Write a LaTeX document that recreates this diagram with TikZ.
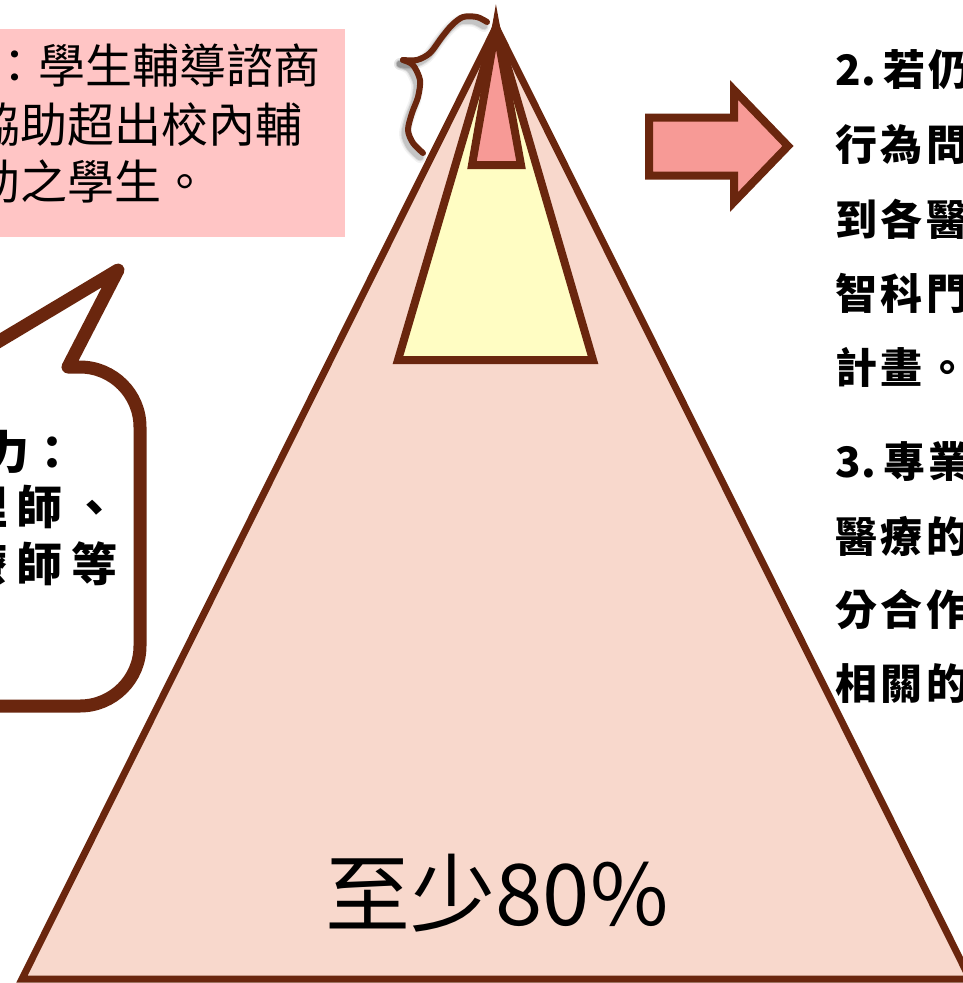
\documentclass[tikz,border=0pt]{standalone}
\usepackage{fontspec}
\newfontfamily\cjk{Noto Sans CJK TC}
\newcommand{\kspc}{\kern3.5pt}
\newcommand{\kspb}{\kern9pt}
\definecolor{brn}{HTML}{6A260E}
\definecolor{trifill}{HTML}{F8D8CC}
\definecolor{yel}{HTML}{FFFDC3}
\definecolor{rosepk}{HTML}{F79A96}
\definecolor{boxpk}{HTML}{FFC5C5}
\tikzset{
  boxtxt/.style={anchor=west, inner sep=0pt, font=\cjk\fontsize{47}{47}\selectfont},
  bubtxt/.style={anchor=west, inner sep=0pt, font=\cjk\bfseries\fontsize{46}{46}\selectfont},
  rtxt/.style={anchor=west, inner sep=0pt, font=\cjk\bfseries\fontsize{42}{42}\selectfont},
  outl/.style={draw=brn, line join=miter, miter limit=10},
  bracepath/.style={line cap=round, line join=round},
}
\begin{document}
\begin{tikzpicture}[x=1pt,y=-1pt]
\useasboundingbox (0,0) rectangle (963,983);
% pink text box
\fill[boxpk] (-10,29) rectangle (345,237);
\node[boxtxt] (b1) at (-9,66) {：學生輔導諮商};
\node[boxtxt] (b2) at (-27,125) {協助超出校內輔};
\node[boxtxt] (b3) at (-27,182) {助之學生。};
% speech bubble
\draw[brn, line width=13pt, line join=round, fill=white]
  (-80,706) -- (80,706) .. controls (113,706) and (140,679) .. (140,646)
  -- (140,427) .. controls (140,394) and (113,367) .. (80,367)
  -- (68,367) -- (118,270) -- (-44,367) -- (-80,367) -- cycle;
\node[bubtxt] (u1) at (-17,452) {力：};
\node[bubtxt] (u2) at (-39,507) {理\kspb 師\kspb 、};
\node[bubtxt] (u3) at (-39,564) {療\kspb 師\kspb 等};
% big triangle
\draw[outl, fill=trifill, line width=7pt] (496,27) -- (970,979) -- (22,979) -- cycle;
% yellow triangle
\draw[outl, fill=yel, line width=8pt] (496,27) -- (593,360) -- (398,360) -- cycle;
% small pink triangle
\draw[outl, fill=rosepk, line width=8pt] (496,27) -- (521,165) -- (472,165) -- cycle;
% brace shadow (soft)
\foreach \w/\o in {12/0.05, 9/0.08, 7/0.12}{
\begin{scope}[xshift=-3pt, yshift=-4pt]
\draw[black, opacity=\o, line width=\w pt, bracepath]
  plot[smooth] coordinates {(487,22) (477,17) (463,17) (452,25) (442,37) (430,53) (417,60) (403,60)};
\draw[black, opacity=\o, line width=\w pt, bracepath]
  plot[smooth] coordinates {(403,60) (413,65) (420,80) (418,97) (412,113) (408,130) (413,143) (423,153)};
\end{scope}}
% brace
\draw[brn, line width=6pt, bracepath]
  plot[smooth] coordinates {(487,22) (477,17) (463,17) (452,25) (442,37) (430,53) (417,60) (403,60)};
\draw[brn, line width=6pt, bracepath]
  plot[smooth] coordinates {(403,60) (413,65) (420,80) (418,97) (412,113) (408,130) (413,143) (423,153)};
% arrow
\draw[outl, fill=rosepk, line width=8pt]
  (649,117.5) -- (734,117.5) -- (734,90) -- (788,146) -- (734,202) -- (734,175.5) -- (649,175.5) -- cycle;
% right column
\node[rtxt] (r1) at (835,70) {2\kern1pt.\kern7pt 若\kspc 仍};
\node[rtxt] (r2) at (835,145) {行\kspc 為\kspc 問};
\node[rtxt] (r3) at (835,219) {到\kspc 各\kspc 醫};
\node[rtxt] (r4) at (835,293) {智\kspc 科\kspc 門};
\node[rtxt] (r5) at (835,367) {計\kspc 畫\kspc 。};
\node[rtxt] (r6) at (835,462) {3\kern1pt.\kern7pt 專\kspc 業};
\node[rtxt] (r7) at (835,536) {醫\kspc 療\kspc 的};
\node[rtxt] (r8) at (835,610) {分\kspc 合\kspc 作};
\node[rtxt] (r9) at (835,684) {相\kspc 關\kspc 的};
% bottom label
\node[anchor=base, inner sep=0pt, font=\cjk\fontsize{85}{85}\selectfont] (lab) at (497,925) {至少80\%};
\end{tikzpicture}
\end{document}
